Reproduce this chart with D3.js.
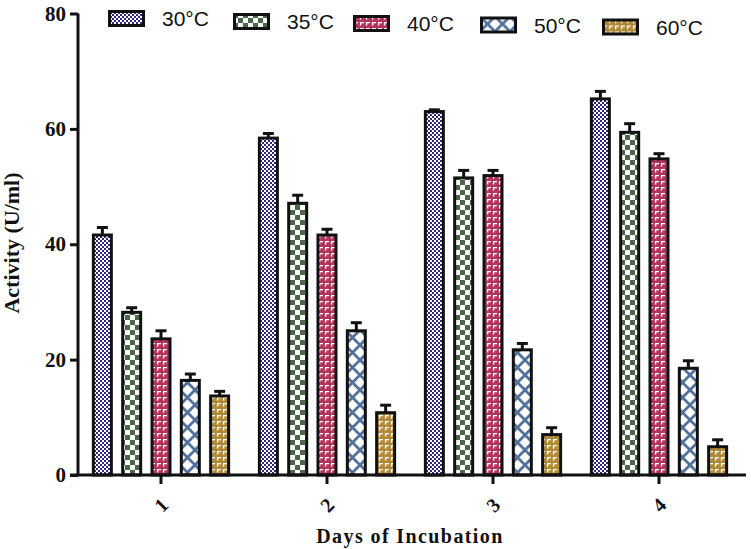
<!DOCTYPE html>
<html><head><meta charset="utf-8">
<script src="https://cdn.jsdelivr.net/npm/d3@7"></script>
<style>body{margin:0;background:#fff}svg{display:block}</style>
</head><body>
<svg id="chart" width="751" height="549"></svg>
<script>
const days = ["1","2","3","4"];
const series = ["30\u00B0C","35\u00B0C","40\u00B0C","50\u00B0C","60\u00B0C"];
const v30 = [41.6, 58.4, 63.0, 65.2];
const v35 = [28.2, 47.1, 51.5, 59.4];
const v40 = [23.6, 41.6, 51.9, 54.8];
const v50 = [16.4, 25.0, 21.7, 18.5];
const v60 = [13.7, 10.8, 7.0, 4.9];
const e30 = [1.3, 0.8, 0.3, 1.3];
const e35 = [0.8, 1.4, 1.3, 1.5];
const e40 = [1.4, 1.0, 0.9, 0.9];
const e50 = [1.1, 1.4, 1.1, 1.3];
const e60 = [0.8, 1.3, 1.2, 1.2];
const yTicks = [0, 20, 40, 60, 80];

const values = [v30, v35, v40, v50, v60];
const errors = [e30, e35, e40, e50, e60];
const patIds = ["p30","p35","p40","p50","p60"];

const svg = d3.select("#chart");
const defs = svg.append("defs");

// patterns
let p = defs.append("pattern").attr("id","p30").attr("patternUnits","userSpaceOnUse").attr("width",4).attr("height",4);
p.append("rect").attr("width",4).attr("height",4).attr("fill","#fff");
p.append("rect").attr("width",2).attr("height",2).attr("fill","#33267a");
p.append("rect").attr("x",2).attr("y",2).attr("width",2).attr("height",2).attr("fill","#33267a");

p = defs.append("pattern").attr("id","p35").attr("patternUnits","userSpaceOnUse").attr("width",10).attr("height",10);
p.append("rect").attr("width",10).attr("height",10).attr("fill","#fff");
p.append("rect").attr("width",5).attr("height",5).attr("fill","#4a6848");
p.append("rect").attr("x",5).attr("y",5).attr("width",5).attr("height",5).attr("fill","#4a6848");

function markPattern(id, color){
  const q = defs.append("pattern").attr("id",id).attr("patternUnits","userSpaceOnUse").attr("width",6).attr("height",6);
  q.append("rect").attr("width",6).attr("height",6).attr("fill",color);
  q.append("path").attr("d","M1,1.6 H5 M1.6,1 V4.6").attr("stroke","#fff").attr("stroke-width",1.4).attr("fill","none");
}
markPattern("p40","#b3345a");
markPattern("p60","#b28a36");

p = defs.append("pattern").attr("id","p50").attr("patternUnits","userSpaceOnUse").attr("width",15).attr("height",15);
p.append("rect").attr("width",15).attr("height",15).attr("fill","#fff");
p.append("path").attr("d","M0,0 L15,15 M15,0 L0,15 M-2,13 L2,17 M13,-2 L17,2 M-2,2 L2,-2 M13,17 L17,13").attr("stroke","#52719a").attr("stroke-width",2.8);

const x0 = d3.scaleBand().domain(days).range([78, 742]).padding(0);
const x1 = d3.scaleBand().domain(series).range([-73.3, 73.3]).paddingInner(0.386).paddingOuter(0.193);
const y = d3.scaleLinear().domain([0, 80]).range([475, 13.5]);

// bars
series.forEach((s, si) => {
  const g = svg.append("g");
  days.forEach((d, di) => {
    const cx = x0(d) + x0.bandwidth()/2 + x1(s);
    const val = values[si][di], err = errors[si][di];
    g.append("rect")
      .attr("x", cx).attr("y", y(val))
      .attr("width", x1.bandwidth()).attr("height", y(0) - y(val))
      .attr("fill", `url(#${patIds[si]})`)
      .attr("stroke", "#111").attr("stroke-width", 3);
    const mx = cx + x1.bandwidth()/2;
    g.append("line").attr("x1", mx).attr("x2", mx).attr("y1", y(val)).attr("y2", y(val+err))
      .attr("stroke","#111").attr("stroke-width",3);
    g.append("line").attr("x1", mx-5.5).attr("x2", mx+5.5).attr("y1", y(val+err)).attr("y2", y(val+err))
      .attr("stroke","#111").attr("stroke-width",3);
  });
});

// y axis
const yAxis = svg.append("g").attr("transform","translate(78,0)")
  .call(d3.axisLeft(y).tickValues(yTicks).tickSize(8).tickPadding(4));
yAxis.select(".domain").attr("d", `M0,${y(80)}V${y(0)}`).attr("stroke","#111").attr("stroke-width",3);
yAxis.selectAll(".tick line").attr("stroke","#111").attr("stroke-width",3);
yAxis.selectAll(".tick text").attr("font-family","Liberation Serif, Times New Roman, serif")
  .attr("font-weight","bold").attr("font-size",21).attr("fill","#111");

// x axis
const xAxis = svg.append("g").attr("transform",`translate(0,${y(0)})`)
  .call(d3.axisBottom(x0).tickSize(9).tickPadding(18));
xAxis.select(".domain").attr("d","M70,0H746").attr("stroke","#111").attr("stroke-width",3);
xAxis.selectAll(".tick line").attr("stroke","#111").attr("stroke-width",3);
xAxis.selectAll(".tick text").attr("font-family","Liberation Serif, Times New Roman, serif")
  .attr("font-weight","bold").attr("font-size",20).attr("fill","#111")
  .attr("text-anchor","middle").attr("dy","0.35em").attr("y",0)
  .attr("transform", "translate(0,30) rotate(-45)");

// axis titles
svg.append("text").attr("transform","translate(19,243) rotate(-90)")
  .attr("text-anchor","middle").attr("font-family","Liberation Serif, Times New Roman, serif")
  .attr("font-weight","bold").attr("font-size",22).attr("fill","#111").text("Activity (U/ml)");
svg.append("text").attr("x",410).attr("y",543)
  .attr("text-anchor","middle").attr("font-family","Liberation Serif, Times New Roman, serif")
  .attr("font-weight","bold").attr("font-size",20).attr("letter-spacing",1.4).attr("fill","#111").text("Days of Incubation");

// legend
const legX = [108, 233, 353, 480, 602];
const legY = [10, 13, 15, 16.5, 18.5];
series.forEach((s, si) => {
  const g = svg.append("g").attr("transform", `translate(${legX[si]},${legY[si]})`);
  g.append("rect").attr("x",1.5).attr("y",1.5).attr("width",34).attr("height",14)
    .attr("fill", `url(#${patIds[si]})`).attr("stroke","#111").attr("stroke-width",3);
  g.append("text").attr("x",54).attr("y",16).attr("font-family","Liberation Sans, Arial, sans-serif")
    .attr("font-size",21).attr("fill","#111").text(s);
});
</script>
</body></html>
